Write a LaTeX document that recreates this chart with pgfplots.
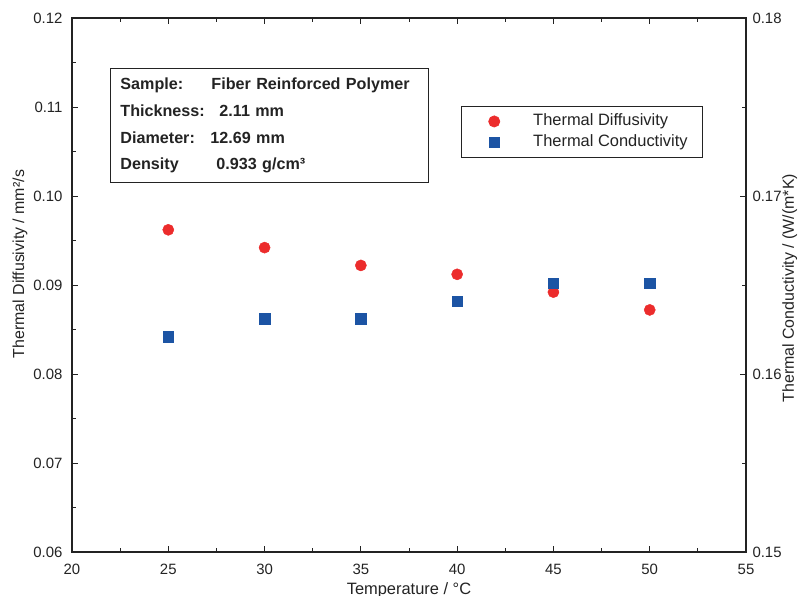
\documentclass[border=0pt]{standalone}
\usepackage{fontspec}
\setmainfont{Liberation Sans}
\usepackage{pgfplots}
\pgfplotsset{compat=1.18}

\definecolor{tdred}{RGB}{236,44,44}
\definecolor{tcblue}{RGB}{28,84,164}
\definecolor{axisgray}{RGB}{35,35,35}

\pgfplotsset{
  common/.style={
    width=674bp, height=534bp, scale only axis,
    at={(0,0)}, anchor=south west,
    xmin=20, xmax=55,
    axis line style={line width=1.3bp, axisgray},
    tick style={axisgray, line width=0.8bp},
    major tick length=6bp, minor tick length=4bp,
    tick align=inside,
    ticklabel style={font=\fontsize{15}{18}\selectfont, text=axisgray},
    label style={font=\fontsize{16}{18}\selectfont, text=axisgray},
    /pgf/number format/assume math mode=true,
    yticklabel style={/pgf/number format/fixed, /pgf/number format/fixed zerofill,
      /pgf/number format/precision=2},
  }
}

\begin{document}
\begin{tikzpicture}
% left axis: thermal diffusivity
\begin{axis}[common,
    ymin=0.06, ymax=0.12,
    xtick={20,25,30,35,40,45,50,55}, minor x tick num=1,
    xtick pos=both, xticklabel pos=bottom,
    ytick={0.06,0.07,0.08,0.09,0.10,0.11,0.12}, minor y tick num=1,
    ytick pos=left,
    xticklabel style={yshift=-9bp},
    yticklabel style={xshift=-6bp},
    xlabel={Temperature / °C},
    ylabel={Thermal Diffusivity / mm²/s},
    xlabel style={at={(axis description cs:0.50,-0.071)}, anchor=center,
      font=\fontsize{16.5}{18}\selectfont},
    ylabel style={at={(axis description cs:-0.077,0.539)}, anchor=center},
]
\addplot[only marks, mark=*, mark size=5.6bp, color=tdred] coordinates {
  (25,0.0962) (30,0.0942) (35,0.0922) (40,0.0912) (45,0.0892) (50,0.0872)
};
\node[draw=axisgray, line width=0.9bp, anchor=north west, align=left,
      text width=298bp, inner xsep=10bp, minimum height=114bp,
      font=\fontsize{16.2}{26.7}\selectfont\bfseries, text=axisgray]
  at (rel axis cs:0.0564,0.906)
  {\makebox[91bp][l]{Sample:}Fiber Reinforced Polymer\\
   \makebox[99bp][l]{Thickness:}2.11 mm\\
   \makebox[90bp][l]{Diameter:}12.69 mm\\
   \makebox[96bp][l]{Density}0.933 g/cm³};
\end{axis}
% right axis: thermal conductivity
\begin{axis}[common,
    axis x line=none, axis y line*=right,
    ymin=0.15, ymax=0.18,
    ytick={0.15,0.16,0.17,0.18}, minor y tick num=1,
    yticklabel style={xshift=3bp},
    ylabel={Thermal Conductivity / (W/(m*K)},
    ylabel style={at={(axis description cs:1.065,0.494)}, anchor=center},
    legend style={at={(rel axis cs:0.577,0.835)}, anchor=north west,
      draw=axisgray, line width=0.7bp, font=\fontsize{16.5}{18}\selectfont,
      text=axisgray, inner xsep=0bp, inner ysep=7bp, row sep=5bp,
      nodes={inner sep=0bp, text height=12bp, text depth=4bp},
      /tikz/every even column/.append style={column sep=0bp}},
    legend cell align=left,
    legend image code/.code={\path[draw=none,fill=none] (0bp,0bp) -- (72bp,0bp);
      \draw[#1] plot coordinates {(33bp,0bp)};},
]
\addlegendimage{only marks, mark=*, mark size=5.6bp, color=tdred}
\addlegendentry{\makebox[169bp][l]{Thermal Diffusivity}}
\addplot[only marks, mark=square*, mark size=5.2bp, color=tcblue] coordinates {
  (25,0.1621) (30,0.1631) (35,0.1631) (40,0.1641) (45,0.1651) (50,0.1651)
};
\addlegendentry{\makebox[169bp][l]{Thermal Conductivity}}
\end{axis}
\pgfresetboundingbox
\path[use as bounding box] (-72bp,-44bp) rectangle (729bp,552bp);
\end{tikzpicture}
\end{document}
